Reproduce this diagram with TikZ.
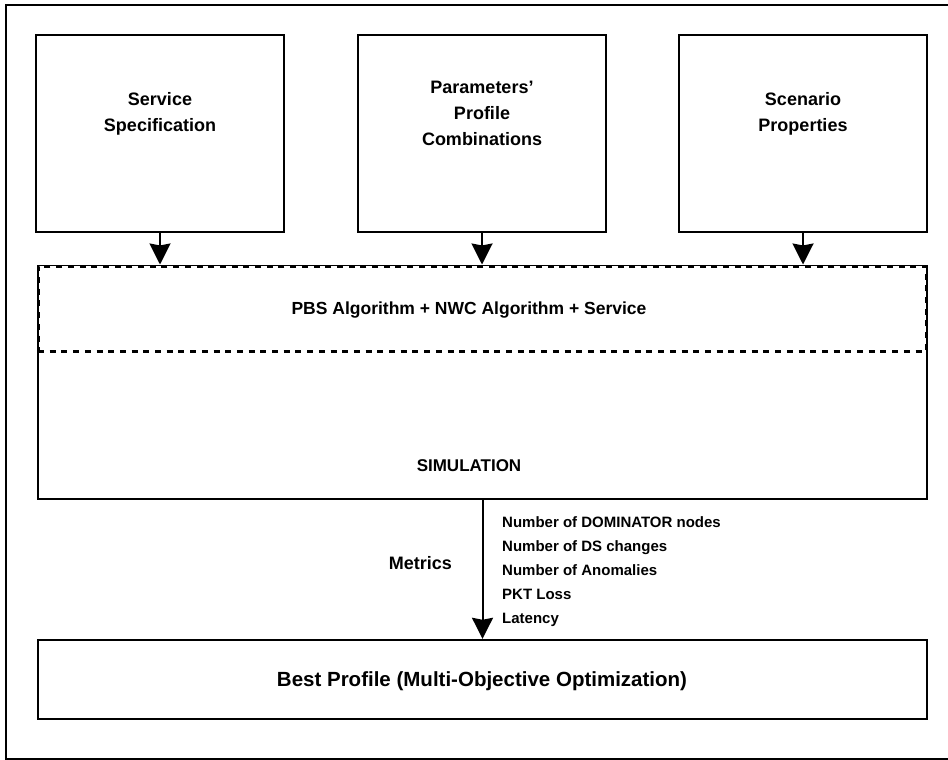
\documentclass[tikz,border=0pt]{standalone}
\usepackage{fontspec}
\setmainfont{Liberation Sans}
\usetikzlibrary{arrows.meta}
\begin{document}
\begin{tikzpicture}[x=1pt,y=-1pt,
  box/.style={draw,line width=2.4pt,rectangle,inner sep=0pt},
  frame/.style={rectangle,inner sep=0pt},
  title/.style={font=\fontsize{18}{26}\selectfont\bfseries,align=center,inner sep=0pt},
  metric/.style={font=\fontsize{15}{24}\selectfont\bfseries,inner sep=0pt,anchor=base west},
  flow/.style={line width=2pt,-{Stealth[length=21pt,width=21pt,inset=2pt]}},
  band/.style={draw,line width=3pt,dash pattern=on 6pt off 5.7pt,rectangle,inner sep=0pt}]
\useasboundingbox (0,0) rectangle (948,760);

% outer frame
\draw[line width=2pt] (948,5.5) -- (6,5.5) -- (6,758.5) -- (948,758.5);

% input boxes
\node[box,minimum width=248pt,minimum height=197pt] (spec) at (160,133.5) {};
\node[box,minimum width=248pt,minimum height=197pt] (prof) at (482,133.5) {};
\node[box,minimum width=248pt,minimum height=197pt] (scen) at (803,133.5) {};
\node[title] (specT) at (160,114) {Service\\Specification};
\node[title] (profT) at (482,113) {Parameters’\\Profile\\Combinations};
\node[title] (scenT) at (803,114) {Scenario\\Properties};

% simulation block with the dashed algorithm band on top
\node[frame,minimum width=889pt,minimum height=233pt] (sim) at (482.5,382.5) {};
\draw[line width=2.4pt] (sim.north west) -- (sim.south west) -- (sim.south east) -- (sim.north east);
\draw[line width=0.8pt] (sim.north west) -- (sim.north east);
\node[band,minimum width=888pt,minimum height=85pt] (alg) at (482,308.5) {};
\node[title,font=\fontsize{17.5}{24}\selectfont\bfseries] (algT) at (469,310) {PBS Algorithm + NWC Algorithm + Service};
\node[title,font=\fontsize{17}{24}\selectfont\bfseries] (simT) at (469,466) {SIMULATION};

% result box
\node[box,minimum width=889pt,minimum height=79pt] (best) at (482.5,679.5) {};
\node[title,font=\fontsize{20.5}{24}\selectfont\bfseries] (bestT) at (482,681) {Best Profile (Multi-Objective Optimization)};

% connectors
\draw[flow] (spec.south) -- (spec.south |- alg.north);
\draw[flow] (prof.south) -- (prof.south |- alg.north);
\draw[flow] (scen.south) -- (scen.south |- alg.north);
\draw[flow] (sim.south) -- (best.north);

% metrics label and list
\node[title,anchor=base east] (metT) at (452,569) {Metrics};
\node[metric] (m1) at (502,527.5) {Number of DOMINATOR nodes};
\node[metric] (m2) at (502,551.5) {Number of DS changes};
\node[metric] (m3) at (502,575.5) {Number of Anomalies};
\node[metric] (m4) at (502,599.5) {PKT Loss};
\node[metric] (m5) at (502,623.5) {Latency};
\end{tikzpicture}
\end{document}
